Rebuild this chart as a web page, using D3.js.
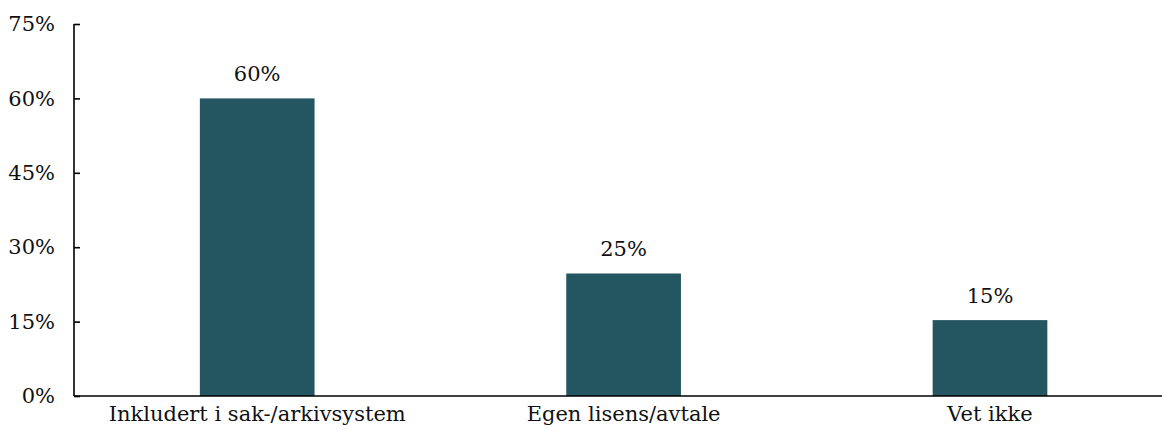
<!DOCTYPE html>
<html><head><meta charset="utf-8">
<script src="https://cdn.jsdelivr.net/npm/d3@7"></script>
<style>html,body{margin:0;padding:0;background:#fff;}svg{display:block;}</style>
</head><body>
<svg id="c" width="1162" height="430"></svg>
<script>
const categories = ["Inkludert i sak-/arkivsystem", "Egen lisens/avtale", "Vet ikke"];
const values = [60, 24.7, 15.3];
const yTicks = [0, 15, 30, 45, 60, 75];

(function () {
const svg = d3.select("#c");
const font = "'DejaVu Serif', serif";
const fs = "21px";
const mLeft = 74, mTop = 24, mBottom = 396;
const x = d3.scaleBand().domain(categories).range([mLeft, mLeft + 3 * 366.4]).paddingInner(0.687).paddingOuter(0.3435);
const y = d3.scaleLinear().domain([0, 75]).range([mBottom, mTop]);

svg.selectAll("rect.bar").data(values).join("rect")
  .attr("class", "bar")
  .attr("x", (d, i) => x(categories[i]))
  .attr("width", x.bandwidth())
  .attr("y", d => y(d))
  .attr("height", d => y(0) - y(d))
  .attr("fill", "#235661");

svg.selectAll("text.val").data(values).join("text")
  .attr("class", "val")
  .attr("x", (d, i) => x(categories[i]) + x.bandwidth() / 2)
  .attr("y", d => y(d) - 17)
  .attr("text-anchor", "middle")
  .style("font-family", font).style("font-size", fs).attr("fill", "#111")
  .text(d => Math.round(d) + "%");

const yAxis = svg.append("g").attr("transform", `translate(${mLeft},0)`)
  .call(d3.axisLeft(y).tickValues(yTicks).tickSize(-6).tickPadding(19).tickFormat(d => d + "%"));
yAxis.select(".domain").attr("stroke", "#000").attr("stroke-width", 1.6).attr("d", `M-0,${mTop}V${mBottom}`);
yAxis.selectAll(".tick line").attr("stroke", "#000").attr("stroke-width", 1.6);
yAxis.selectAll(".tick text").style("font-family", font).style("font-size", fs).attr("fill", "#111");

const xAxis = svg.append("g").attr("transform", `translate(0,${mBottom})`)
  .call(d3.axisBottom(x).tickSize(0).tickPadding(10));
xAxis.select(".domain").attr("stroke", "#000").attr("stroke-width", 1.6).attr("d", `M${mLeft},0H1162`);
xAxis.selectAll(".tick text").style("font-family", font).style("font-size", fs).attr("fill", "#111");
})();
</script>
</body></html>
